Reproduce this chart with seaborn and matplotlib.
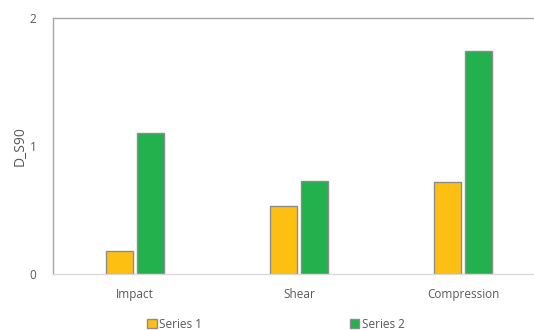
import pandas as pd
import matplotlib.pyplot as plt
import seaborn as sns

categories = ["Impact", "Shear", "Compression"]
series_1 = [0.18, 0.53, 0.72]
series_2 = [1.10, 0.73, 1.74]
series_names = ["Series 1", "Series 2"]
y_ticks = [0, 1, 2]

df = pd.DataFrame({
    "category": categories * 2,
    "value": series_1 + series_2,
    "series": [series_names[0]] * 3 + [series_names[1]] * 3,
})

sns.set_style("white")
plt.rcParams["font.family"] = ["Open Sans", "DejaVu Sans"]

fig = plt.figure(figsize=(5.34, 3.3), dpi=100)
# plot area runs a little past the right edge, like the original
ax = fig.add_axes([53 / 534, (330 - 274) / 330, 492 / 534, 256 / 330])

sns.barplot(data=df, x="category", y="value", hue="series",
            palette=["#FCBF12", "#22B14C"], saturation=1,
            width=0.38, gap=0.16,
            edgecolor="#8C8C8C", linewidth=1.0, ax=ax)

ax.set_ylim(0, 2)
ax.set_xlim(-0.5, 2.5)
ax.set_yticks(y_ticks)
ax.set_xlabel("")
ax.set_ylabel("D_S90", color="#595959", fontsize=10, labelpad=1)
ax.tick_params(axis="both", length=0, colors="#595959", labelsize=8.5)
ax.tick_params(axis="x", pad=10)
ax.tick_params(axis="y", pad=12)

for side in ["top", "left"]:
    ax.spines[side].set_color("#A6A6A6")
    ax.spines[side].set_linewidth(1.0)
ax.spines["bottom"].set_color("#D9D9D9")
ax.spines["bottom"].set_linewidth(1.0)
ax.spines["right"].set_visible(False)

sns.move_legend(ax, "center", bbox_to_anchor=(276 / 534, 6 / 330),
                bbox_transform=fig.transFigure, ncol=2, frameon=False,
                title=None, fontsize=8.5, columnspacing=12.5,
                handlelength=0.8, handleheight=0.8, handletextpad=0.2)
for txt in ax.get_legend().get_texts():
    txt.set_color("#595959")

fig.savefig("out.png", dpi=100)
